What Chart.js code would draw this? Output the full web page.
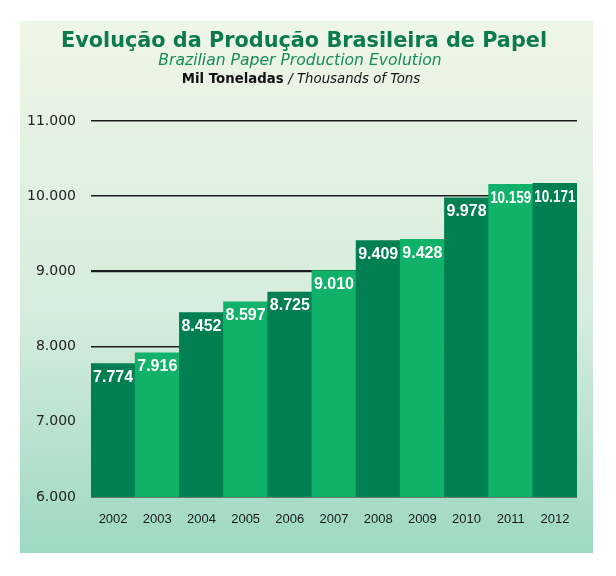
<!DOCTYPE html>
<html>
<head>
<meta charset="utf-8">
<script src="https://cdn.jsdelivr.net/npm/chart.js@4"></script>
<style>
  html, body { margin: 0; padding: 0; background: #fff; }
  #wrap { width: 616px; height: 576px; }
</style>
</head>
<body>
<div id="wrap"><canvas id="myChart" width="616" height="576"></canvas></div>
<script>
const years = ['2002', '2003', '2004', '2005', '2006', '2007', '2008', '2009', '2010', '2011', '2012'];
const production = [7774, 7916, 8452, 8597, 8725, 9010, 9409, 9428, 9978, 10159, 10171];
const yTicks = [6000, 7000, 8000, 9000, 10000, 11000];

const darkGreen = '#008052';
const lightGreen = '#10b26a';

function fmt(v) {
  return v.toLocaleString('de-DE');
}

// background panel + titles
const panel = {
  id: 'panel',
  beforeDraw(chart) {
    const c = chart.ctx;
    c.save();
    const g = c.createLinearGradient(0, 21, 0, 553);
    g.addColorStop(0, '#eef6e7');
    g.addColorStop(0.55, '#d6ecdc');
    g.addColorStop(1, '#9dd8c3');
    c.fillStyle = g;
    c.fillRect(20, 21, 573, 532);

    c.textAlign = 'center';
    c.textBaseline = 'alphabetic';
    c.fillStyle = '#0b7a4c';
    c.font = 'bold 20.8px "DejaVu Sans"';
    c.fillText('Evolução da Produção Brasileira de Papel', 304, 47);

    c.fillStyle = '#178c55';
    c.font = 'italic 15.6px "DejaVu Sans"';
    c.fillText('Brazilian Paper Production Evolution', 300, 65);

    const a = 'Mil Toneladas ';
    const b = '/ Thousands of Tons';
    c.font = 'bold 13.3px "DejaVu Sans"';
    const wa = c.measureText(a).width;
    c.font = 'italic 13.3px "DejaVu Sans"';
    const wb = c.measureText(b).width;
    const x0 = 301 - (wa + wb) / 2;
    c.textAlign = 'left';
    c.fillStyle = '#111';
    c.font = 'bold 13.3px "DejaVu Sans"';
    c.fillText(a, x0, 83);
    c.font = 'italic 13.3px "DejaVu Sans"';
    c.fillText(b, x0 + wa, 83);
    c.restore();
  }
};

// value labels inside the top of each bar
const barLabels = {
  id: 'barLabels',
  afterDatasetsDraw(chart) {
    const c = chart.ctx;
    const meta = chart.getDatasetMeta(0);
    c.save();
    c.fillStyle = '#fff';
    c.font = 'bold 16px "Liberation Sans"';
    c.textAlign = 'center';
    c.textBaseline = 'middle';
    meta.data.forEach((bar, i) => {
      c.fillText(fmt(production[i]), bar.x, bar.y + 14, bar.width - 3);
    });
    c.restore();
  }
};

const ctx = document.getElementById('myChart');
const myChart = new Chart(ctx, {
  type: 'bar',
  data: {
    labels: years,
    datasets: [{
      data: production,
      backgroundColor: years.map((y, i) => i % 2 === 0 ? darkGreen : lightGreen),
      borderWidth: 0,
      categoryPercentage: 1,
      barPercentage: 1,
    }]
  },
  options: {
    responsive: false,
    animation: false,
    layout: { padding: { left: 20, right: 39, top: 121, bottom: 39 } },
    plugins: {
      legend: { display: false },
      tooltip: { enabled: false },
    },
    scales: {
      x: {
        grid: { display: false },
        border: { display: false },
        ticks: {
          color: '#1a1a1a',
          font: { family: 'Liberation Sans', size: 13 },
          padding: 7,
        },
        afterFit(s) { s.height = 40; },
      },
      y: {
        min: 6000,
        max: 11000,
        afterBuildTicks(s) { s.ticks = yTicks.map(v => ({ value: v })); },
        grid: {
          color: '#1d1d1d',
          lineWidth: (c) => c.tick && c.tick.value === 9000 ? 2.2 : 1.5,
          drawTicks: false,
        },
        border: { display: false },
        ticks: {
          color: '#222',
          font: { family: 'DejaVu Sans', size: 14 },
          padding: 15,
          callback: (v) => fmt(v),
        },
        afterFit(s) { s.width = 71; },
      }
    }
  },
  plugins: [panel, barLabels]
});
</script>
</body>
</html>
